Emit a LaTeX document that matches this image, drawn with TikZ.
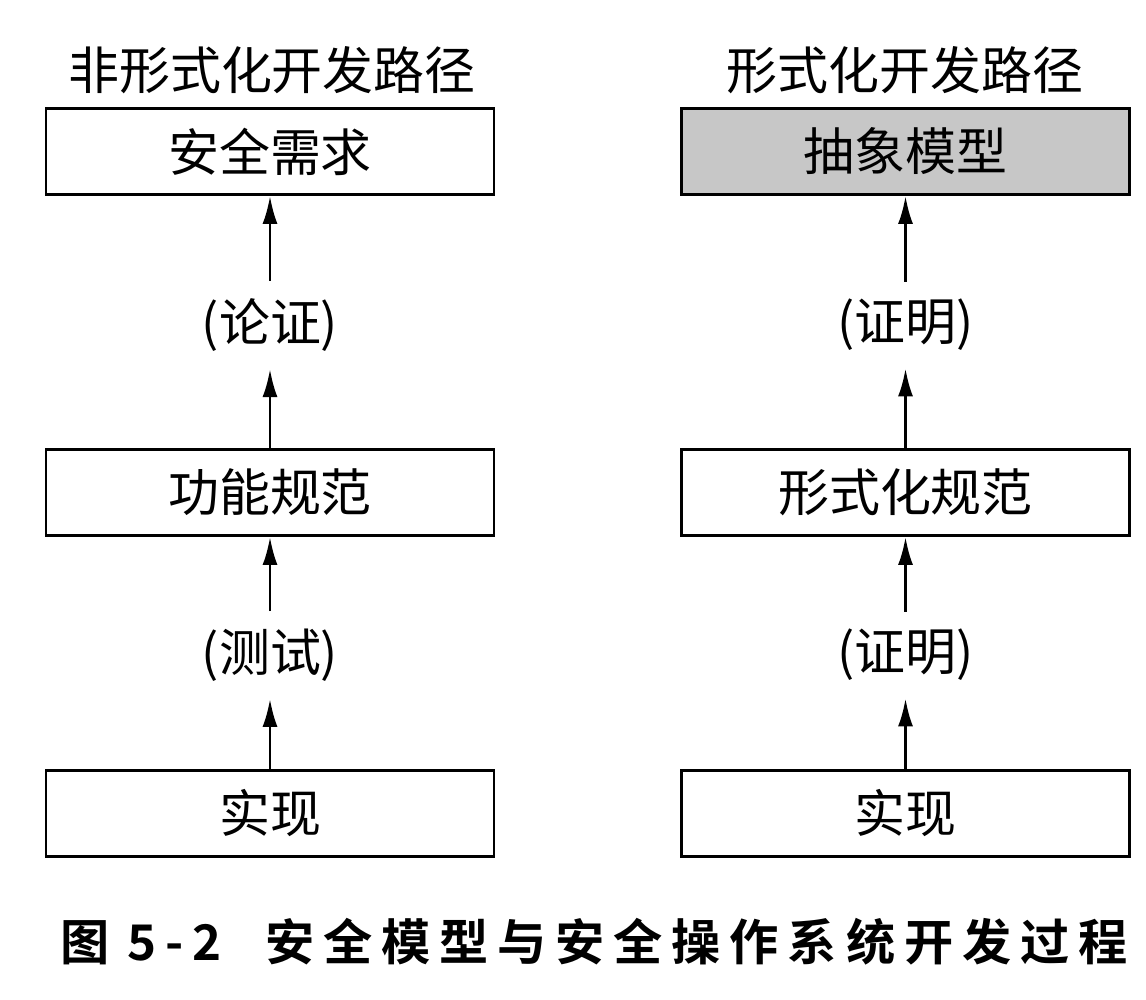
\documentclass[tikz,border=0pt]{standalone}
\usepackage{fontspec}
\newfontfamily\cjk{Noto Sans CJK SC}
\newfontfamily\cjkbf{Noto Sans CJK SC Bold}
\usetikzlibrary{arrows.meta}
\tikzset{
  pathbox/.style={draw, thick, minimum width=4.48cm, minimum height=0.86cm, inner sep=0pt},
  reason/.style={inner sep=0pt, outer sep=5pt},
  up/.style={-{Latex[length=2.8mm,width=1.5mm]}, thick}
}

\begin{document}
\begin{tikzpicture}[font=\cjk\fontsize{14.5pt}{16pt}\selectfont]
			%%%%% START %%%%%
			\useasboundingbox (0, 0) rectangle (11.46, -10);
			
			% informal path
			\node (infTitle) at (2.72, -0.70) {非形式化开发路径};
			\node[pathbox] (secReq) at (2.70, -1.515) {安全需求};
			\node[reason] (argue) at (2.70, -3.25) {(论证)};
			\node[pathbox] (funSpec) at (2.70, -4.925) {功能规范};
			\node[reason] (test) at (2.70, -6.55) {(测试)};
			\node[pathbox] (implL) at (2.70, -8.135) {实现};
			
			\draw[up] (argue) -- (secReq);
			\draw[up] (funSpec) -- (argue);
			\draw[up] (test) -- (funSpec);
			\draw[up] (implL) -- (test);
			
			% formal path
			\node (forTitle) at (9.05, -0.70) {形式化开发路径};
			\node[pathbox, fill=black!22] (absModel) at (9.055, -1.515) {抽象模型};
			\node[reason] (proveA) at (9.055, -3.25) {(证明)};
			\node[pathbox] (forSpec) at (9.055, -4.925) {形式化规范};
			\node[reason] (proveB) at (9.055, -6.55) {(证明)};
			\node[pathbox] (implR) at (9.055, -8.135) {实现};
			
			\draw[up] (proveA) -- (absModel);
			\draw[up] (forSpec) -- (proveA);
			\draw[up] (proveB) -- (forSpec);
			\draw[up] (implR) -- (proveB);
			
			% caption
			\node[anchor=west, inner sep=0pt, font=\cjkbf\fontsize{14pt}{16pt}\selectfont] (caption) at (0.60, -9.42)
			  {\addfontfeature{LetterSpace=18}图\hspace{0.35em}5-2\hspace{0.9em}安全模型与安全操作系统开发过程};
			%%%%% END %%%%%
\end{tikzpicture}
\end{document}
